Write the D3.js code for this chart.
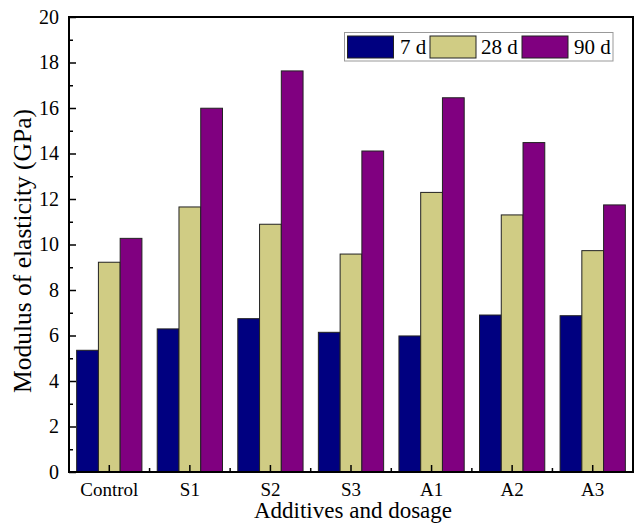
<!DOCTYPE html>
<html><head><meta charset="utf-8">
<script src="https://cdn.jsdelivr.net/npm/d3@7"></script>
</head><body style="margin:0;background:#fff"><svg id="c" width="638" height="529"></svg>
<script>
const categories = ["Control","S1","S2","S3","A1","A2","A3"];
const seriesNames = ["7 d","28 d","90 d"];
const d7  = [5.35, 6.29, 6.74, 6.14, 5.98, 6.90, 6.87];
const d28 = [9.22, 11.65, 10.89, 9.58, 12.29, 11.30, 9.73];
const d90 = [10.27, 15.99, 17.63, 14.11, 16.45, 14.48, 11.74];
const colors = ["#000080","#D0CC84","#800080"];
const yTicks = [0,2,4,6,8,10,12,14,16,18,20];

const FF = "Liberation Serif";
const series = [d7, d28, d90];
const svg = d3.select("#c");
const L = 69, R = 633, T = 17, B = 472;
const x = d3.scaleBand().domain(categories).range([L, R]).paddingInner(0.19).paddingOuter(0.095);
const xs = d3.scaleBand().domain(seriesNames).range([0, x.bandwidth()]);
const y = d3.scaleLinear().domain([0, 20]).range([B, T]);

// bars
categories.forEach((c, i) => {
  series.forEach((s, j) => {
    svg.append("rect")
      .attr("x", x(c) + xs(seriesNames[j]))
      .attr("y", y(s[i]))
      .attr("width", xs.bandwidth())
      .attr("height", y(0) - y(s[i]))
      .attr("fill", colors[j]).attr("stroke", "#222").attr("stroke-width", 1);
  });
});

// y axis
const yAxis = d3.axisLeft(y).tickValues(yTicks).tickSize(-7).tickPadding(10).tickFormat(d3.format("d"));
const gy = svg.append("g").attr("transform", `translate(${L},0)`).call(yAxis);
gy.select(".domain").remove();
gy.selectAll("line").attr("stroke", "#000").attr("stroke-width", 1.5);
gy.selectAll("text").attr("fill", "#000").attr("font-family", FF).attr("font-size", 20);
const yMinor = d3.axisLeft(y).tickValues(d3.range(1, 20, 2)).tickSize(-4).tickFormat("");
const gym = svg.append("g").attr("transform", `translate(${L},0)`).call(yMinor);
gym.select(".domain").remove();
gym.selectAll("line").attr("stroke", "#000").attr("stroke-width", 1.5);

// x axis
const xAxis = d3.axisBottom(x).tickSize(-7).tickPadding(11);
const gx = svg.append("g").attr("transform", `translate(0,${B})`).call(xAxis);
gx.select(".domain").remove();
gx.selectAll("line").attr("stroke", "#000").attr("stroke-width", 1.5);
gx.selectAll("text").attr("fill", "#000").attr("font-family", FF).attr("font-size", 19);
// minor x ticks between categories
const step = x.step();
categories.slice(1).forEach(c => {
  const xp = x(c) + x.bandwidth() / 2 - step / 2;
  svg.append("line").attr("x1", xp).attr("x2", xp).attr("y1", B).attr("y2", B - 4)
    .attr("stroke", "#000").attr("stroke-width", 1.5);
});

// frame
svg.append("rect").attr("x", L).attr("y", T).attr("width", R - L).attr("height", B - T)
  .attr("fill", "none").attr("stroke", "#000").attr("stroke-width", 2);

// axis titles
svg.append("text").attr("x", 353).attr("y", 518).attr("text-anchor", "middle")
  .attr("font-family", FF).attr("font-size", 23).text("Additives and dosage");
svg.append("text").attr("transform", `translate(31,251) rotate(-90)`).attr("text-anchor", "middle")
  .attr("font-family", FF).attr("font-size", 25.5).text("Modulus of elasticity (GPa)");

// legend
const lg = svg.append("g");
lg.append("rect").attr("x", 344.5).attr("y", 32.5).attr("width", 268.5).attr("height", 28.5)
  .attr("fill", "#fff").attr("stroke", "#999").attr("stroke-width", 1);
const swX = [347.5, 430, 522];
const txX = [400, 481, 574];
seriesNames.forEach((n, j) => {
  lg.append("rect").attr("x", swX[j]).attr("y", 36).attr("width", 46).attr("height", 22)
    .attr("fill", colors[j]).attr("stroke", "#222").attr("stroke-width", 1);
  lg.append("text").attr("x", txX[j]).attr("y", 54).attr("font-family", FF).attr("font-size", 21).text(n);
});
</script></body></html>
